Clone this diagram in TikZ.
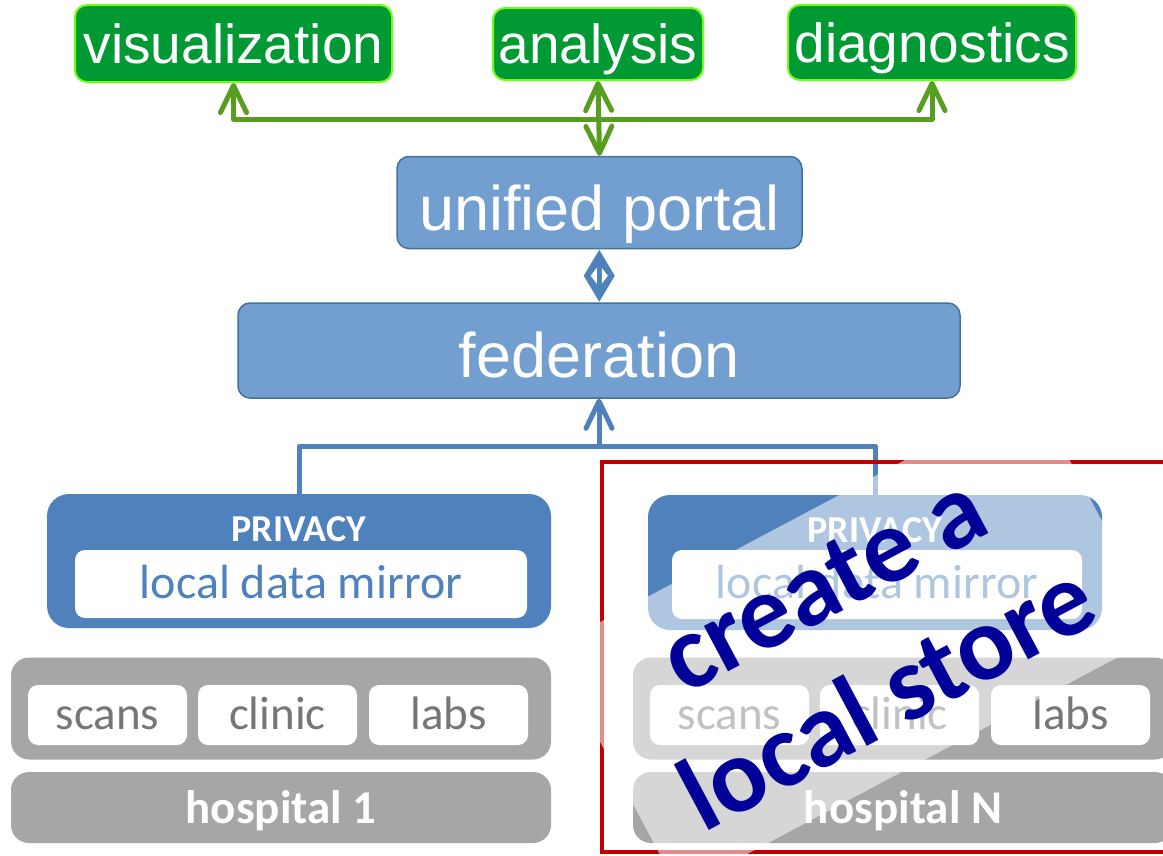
\documentclass[tikz,border=0pt]{standalone}
\usepackage{fontspec}
\setmainfont{Carlito}
\newfontfamily\arialf{Liberation Sans}
\usetikzlibrary{arrows.meta,calc}
\definecolor{gfill}{RGB}{0,153,51}
\definecolor{gborder}{RGB}{110,255,20}
\definecolor{gline}{RGB}{87,157,32}
\definecolor{pfill}{RGB}{114,159,207}
\definecolor{pborder}{RGB}{65,113,156}
\definecolor{bblue}{RGB}{79,129,189}
\definecolor{hgray}{RGB}{166,166,166}
\definecolor{tgray}{RGB}{118,118,118}
\definecolor{rbox}{RGB}{192,0,0}
\definecolor{navy}{RGB}{0,0,153}
\begin{document}
\begin{tikzpicture}[x=1pt,y=-1pt,
  gbox/.style={draw=gborder, line width=2pt, fill=gfill, rounded corners=12pt, inner sep=0pt},
  pbox/.style={draw=pborder, line width=1.5pt, fill=pfill, rounded corners=12pt, inner sep=0pt},
  privbox/.style={fill=bblue, rounded corners=22pt, inner sep=0pt},
  whitebox/.style={fill=white, rounded corners=10pt, inner sep=0pt},
  graybox/.style={fill=hgray, rounded corners=18pt, inner sep=0pt},
  atext/.style={font=\arialf\fontsize{55}{60}\selectfont, text=white, inner sep=0pt, anchor=base},
  btext/.style={font=\arialf\fontsize{63}{66}\selectfont, text=white, inner sep=0pt, anchor=base},
  privtext/.style={font=\bfseries\fontsize{38}{40}\selectfont, text=white, inner sep=0pt, anchor=base},
  mirtext/.style={font=\fontsize{48}{50}\selectfont, text=bblue, inner sep=0pt, anchor=base},
  srctext/.style={font=\fontsize{47}{50}\selectfont, text=tgray, inner sep=0pt, anchor=base},
  hosptext/.style={font=\bfseries\fontsize{47}{50}\selectfont, text=white, inner sep=0pt, anchor=base},
  overtext/.style={font=\bfseries\fontsize{106}{106}\selectfont, text=navy, inner sep=0pt, anchor=base, rotate=28},
  gconn/.style={draw=gline, line width=5pt, line cap=round, line join=round},
  bconn/.style={draw=bblue, line width=5pt, line cap=round, line join=round},
  barb/.tip={Straight Barb[length=27pt, width=26pt, round]}
]
\useasboundingbox (0,0) rectangle (1163,855);
\clip (0,0) rectangle (1163,855);

% top green boxes
\node[gbox, minimum width=317pt, minimum height=77pt] (vis) at (233.5,43.5) {};
\node[gbox, minimum width=210pt, minimum height=72pt] (ana) at (598,44) {};
\node[gbox, minimum width=288pt, minimum height=75pt] (diag) at (932,42.5) {};
\node[atext] (visT) at (233.5,63) {visualization};
\node[atext] (anaT) at (598,63) {analysis};
\node[atext] (diagT) at (932,62) {diagnostics};

% portal and federation
\node[pbox, minimum width=405pt, minimum height=92pt] (portal) at (599.5,202.5) {};
\node[btext] (portalT) at (599.5,230) {unified portal};
\node[pbox, minimum width=722pt, minimum height=95pt] (fed) at (599,350.5) {};
\node[btext] (fedT) at (599,377) {federation};

% green connectors
\coordinate (gy) at (0,119);
\draw[gconn, {barb}-{barb}] (vis.south) |- (diag.south |- gy) -- (diag.south);
\draw[gconn, {barb}-{barb}] (ana.south) -- (portal.north);

% diamond connector
\path (portal.south) -- (fed.north) coordinate[pos=0.5] (dm);
\fill[bblue] ($(dm)+(0,-26)$) -- ($(dm)+(15.5,0)$) -- ($(dm)+(0,26)$) -- ($(dm)+(-15.5,0)$) -- cycle;
\fill[white] ($(dm)+(-2.5,-8)$) -- ($(dm)+(-2.5,8)$) -- ($(dm)+(-8.5,0)$) -- cycle;
\fill[white] ($(dm)+(2.5,-8)$) -- ($(dm)+(2.5,8)$) -- ($(dm)+(8.5,0)$) -- cycle;

% hospital 1
\node[privbox, minimum width=504pt, minimum height=134pt] (privL) at (299,561) {};
\node[whitebox, minimum width=452pt, minimum height=68pt] (mirL) at (301,584) {};
\node[privtext] (privLT) at (299,541) {PRIVACY};
\node[mirtext] (mirLT) at (301,598) {local data mirror};
\node[graybox, minimum width=540pt, minimum height=102pt] (grayL) at (281,708.5) {};
\node[whitebox, minimum width=159pt, minimum height=60pt] (scansL) at (107.5,715) {};
\node[whitebox, minimum width=159pt, minimum height=60pt] (clinicL) at (277.5,715) {};
\node[whitebox, minimum width=159pt, minimum height=60pt] (labsL) at (448.5,715) {};
\node[srctext] (scansLT) at (107.5,729) {scans};
\node[srctext] (clinicLT) at (277.5,729) {clinic};
\node[srctext] (labsLT) at (448.5,729) {labs};
\node[graybox, minimum width=540pt, minimum height=71pt] (hosp1) at (281,807.5) {};
\node[hosptext] (hosp1T) at (281,823) {hospital 1};

% hospital N
\node[privbox, minimum width=454pt, minimum height=135pt] (privR) at (875,562.5) {};
\node[whitebox, minimum width=410pt, minimum height=69pt] (mirR) at (877,584.5) {};
\node[privtext] (privRT) at (875,542) {PRIVACY};
\node[mirtext] (mirRT) at (877,598) {local data mirror};
\node[graybox, minimum width=540pt, minimum height=102pt] (grayR) at (903,708.5) {};
\node[whitebox, minimum width=159pt, minimum height=60pt] (scansR) at (729.5,715) {};
\node[whitebox, minimum width=159pt, minimum height=60pt] (clinicR) at (899.5,715) {};
\node[whitebox, minimum width=159pt, minimum height=60pt] (labsR) at (1070.5,715) {};
\node[srctext] (scansRT) at (729.5,729) {scans};
\node[srctext] (clinicRT) at (899.5,729) {clinic};
\node[srctext] (labsRT) at (1070.5,729) {labs};
\node[graybox, minimum width=540pt, minimum height=71pt] (hospN) at (903,807.5) {};
\node[hosptext] (hospNT) at (903,823) {hospital N};

% blue connectors
\coordinate (by) at (0,446);
\draw[bconn] (privL.north) |- (privR.north |- by) -- (privR.north);
\draw[bconn, -{barb}] (fed.south |- by) -- (fed.south);

% red frame
\draw[rbox, line width=4pt] (602,462) rectangle (1210,852);

% translucent band
\fill[white, opacity=0.55] (550.4,648.4) -- (1033.4,391.9) -- (1161.9,633.8) -- (678.9,890.3) -- cycle;

% overlay text
\node[overtext] (ov1) at (838.9,612.9) {create a};
\node[overtext] (ov2) at (903,727.2) {local store};
\end{tikzpicture}
\end{document}
